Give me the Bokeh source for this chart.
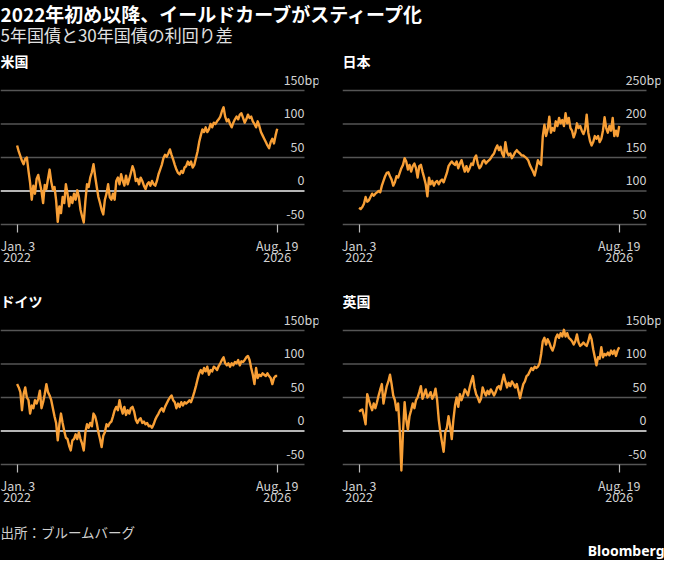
import pandas as pd
from bokeh.plotting import figure
from bokeh.models import (Range1d, FixedTicker, Label, ColumnDataSource,
                          DatetimeAxis)
from bokeh.layouts import column, row
from bokeh.embed import file_html
from bokeh.resources import INLINE

# ---------------- data ----------------
TITLE = "2022年初め以降、イールドカーブがスティープ化"
SUBTITLE = "5年国債と30年国債の利回り差"
SOURCE = "出所：ブルームバーグ"
BRAND = "Bloomberg"

START = "2022-01-03"
END = "2026-08-19"
x_tick_labels = ["Jan. 3", "Aug. 19"]
x_year_labels = ["2022", "2026"]
unit = "bp"

us_name = "米国"
us_ticks = [-50, 0, 50, 100, 150]
us = [68, 59, 52, 45, 40, 48, 50, 30, 12, -13,
      8, -4, 18, 24, 12, 0, -18, 9, 3, 18,
      32, 14, 2, 6, -14, -46, -23, -33, -9, -18,
      10, -4, -23, -9, -18, -4, -13, 1, -9, -28,
      -38, -47, -15, 10, 6, 20, 28, 40, 22, 6,
      -9, -18, -28, -35, -13, -4, 10, -9, -13, -4,
      -13, 15, 20, 10, 25, 15, 8, 23, 10, 18,
      27, 37, 30, 15, 18, 10, 20, 15, 8, 3,
      10, 13, 8, 15, 10, 8, 15, 25, 32, 39,
      49, 54, 51, 56, 62, 54, 47, 39, 32, 27,
      25, 30, 27, 35, 37, 44, 39, 44, 35, 39,
      49, 59, 73, 83, 92, 88, 95, 88, 92, 100,
      95, 102, 100, 104, 107, 111, 119, 125, 111, 104,
      107, 100, 95, 102, 107, 111, 107, 114, 116, 109,
      102, 107, 114, 109, 111, 104, 100, 95, 104, 97,
      88, 83, 78, 73, 68, 64, 73, 78, 71, 83,
      93]

jp_name = "日本"
jp_ticks = [50, 100, 150, 200, 250]
jp = [75, 73, 76, 81, 91, 84, 86, 91, 96, 93,
      96, 98, 100, 98, 108, 115, 122, 127, 128, 122,
      117, 108, 113, 122, 120, 127, 134, 139, 149, 144,
      132, 139, 129, 137, 141, 134, 120, 137, 139, 129,
      120, 110, 92, 120, 110, 115, 108, 113, 115, 110,
      115, 117, 113, 120, 127, 137, 141, 144, 141, 139,
      144, 134, 141, 146, 137, 129, 137, 129, 134, 141,
      139, 149, 153, 141, 134, 137, 144, 146, 141, 144,
      146, 149, 153, 156, 163, 168, 161, 166, 156, 151,
      173, 158, 153, 156, 149, 153, 158, 161, 158, 156,
      153, 153, 151, 149, 146, 139, 134, 129, 123, 134,
      146, 141, 139, 182, 199, 182, 192, 211, 187, 194,
      190, 204, 197, 209, 201, 206, 197, 216, 201, 209,
      194, 190, 180, 187, 201, 194, 197, 190, 185, 192,
      214, 187, 175, 168, 173, 182, 178, 182, 173, 178,
      190, 210, 194, 187, 197, 190, 209, 182, 190, 182,
      197]

de_name = "ドイツ"
de_ticks = [-50, 0, 50, 100, 150]
de = [70, 65, 58, 31, 55, 65, 50, 46, 26, 38,
      34, 46, 41, 48, 60, 34, 43, 55, 70, 58,
      53, 46, 34, 22, 12, -14, 10, 26, 12, 0,
      -10, -12, -22, -29, -14, -12, -5, -12, -2, -12,
      -19, -29, -2, 10, 5, 12, 7, 26, 22, 12,
      -2, -12, -24, -7, -2, 10, 7, 12, 14, 22,
      31, 36, 31, 46, 34, 26, 36, 24, 31, 26,
      34, 36, 29, 17, 12, 17, 19, 12, 14, 10,
      12, 7, 8, 5, 10, 17, 22, 26, 31, 34,
      29, 36, 41, 46, 50, 53, 46, 43, 34, 41,
      36, 43, 38, 43, 41, 43, 46, 43, 50, 58,
      67, 77, 86, 91, 86, 94, 89, 96, 84, 91,
      89, 96, 94, 91, 97, 101, 106, 110, 101, 98,
      101, 96, 101, 98, 103, 101, 106, 98, 104, 103,
      106, 110, 112, 106, 94, 84, 70, 94, 79, 84,
      82, 86, 84, 82, 86, 82, 79, 70, 79, 82,
      82]

uk_name = "英国"
uk_ticks = [-50, 0, 50, 100, 150]
uk = [29, 31, 32, 22, 10, 55, 46, 38, 31, 41,
      34, 43, 53, 62, 70, 41, 55, 67, 74, 84,
      70, 53, 46, 31, 41, 2, -59, -2, 43, 17,
      2, 22, 31, 41, 34, 46, 50, 58, 67, 48,
      55, 62, 50, 53, 58, 48, 53, 63, 46, 17,
      -2, -17, -31, -2, 5, 22, 7, -12, 17, 38,
      50, 36, 55, 46, 53, 62, 58, 53, 65, 74,
      82, 65, 55, 50, 43, 48, 65, 58, 53, 60,
      55, 62, 58, 53, 58, 65, 67, 62, 74, 84,
      74, 65, 72, 67, 74, 70, 65, 70, 60, 49,
      60, 70, 74, 82, 84, 89, 94, 91, 96, 94,
      96, 101, 115, 134, 139, 129, 137, 132, 125, 120,
      127, 139, 144, 139, 146, 141, 151, 141, 146, 139,
      137, 134, 129, 134, 144, 132, 127, 129, 132, 129,
      127, 134, 144, 137, 122, 110, 98, 110, 108, 125,
      110, 115, 113, 117, 113, 120, 115, 120, 112, 120,
      125]

zero_line = {"米国": True, "日本": False, "ドイツ": True, "英国": True}

# ---------------- style / geometry ----------------
BG = "#000000"
LINE = "#f89f36"
GRID = "#555555"
LABEL = "#d2d2d2"
CJK = "Noto Sans CJK JP"

W = 664
GRID_W = 304          # width of the gridlines
LABEL_PAD = 14        # room for "bp" right of gridlines
FRAME_W = GRID_W + LABEL_PAD
FRAME_H = 182
TOP_GRID_PX = 40      # px from frame top to top gridline
BOT_GRID_PX = 174     # px from frame top to bottom gridline
DATA_X0 = 16.6        # px from frame left to first date
DATA_X1 = 276.7       # px from frame left to last date

t0 = pd.Timestamp(START).value / 1e6
t1 = pd.Timestamp(END).value / 1e6
ms_per_px = (t1 - t0) / (DATA_X1 - DATA_X0)
X_START = t0 - DATA_X0 * ms_per_px
X_GRID_END = t1 + (GRID_W - DATA_X1) * ms_per_px
X_END = t1 + (FRAME_W - DATA_X1) * ms_per_px


def style_axis(ax, overrides, tick_len, standoff):
    ax.ticker = FixedTicker(ticks=[t0, t1])
    ax.major_label_overrides = overrides
    ax.axis_line_color = None
    ax.major_tick_line_color = "#bbbbbb" if tick_len else None
    ax.major_tick_line_width = 1.2
    ax.major_tick_in = tick_len
    ax.major_tick_out = 0
    ax.minor_tick_line_color = None
    ax.major_label_standoff = standoff
    ax.major_label_text_color = LABEL
    ax.major_label_text_font = CJK
    ax.major_label_text_font_size = "12.5px"


def panel(name, vals, ticks, height, left_border):
    lo, hi = min(ticks), max(ticks)
    px_per = (BOT_GRID_PX - TOP_GRID_PX) / (hi - lo)
    y_end = hi + TOP_GRID_PX / px_per
    y_start = lo - (FRAME_H - BOT_GRID_PX) / px_per

    p = figure(width=W // 2, height=height, x_axis_type="datetime",
               y_axis_location=None,
               x_range=Range1d(X_START, X_END), y_range=Range1d(y_start, y_end),
               output_backend="svg", toolbar_location=None,
               min_border_left=left_border,
               min_border_right=W // 2 - FRAME_W - left_border,
               min_border_top=0, min_border_bottom=height - FRAME_H,
               background_fill_color=BG, border_fill_color=BG,
               outline_line_color=None)
    p.xgrid.visible = False
    p.ygrid.visible = False

    gsrc = ColumnDataSource(dict(y=[t for t in ticks if not (zero_line[name] and t == 0)]))
    p.segment(x0=X_START, x1=X_GRID_END, y0="y", y1="y", source=gsrc,
              line_color=GRID, line_width=1.4)
    if zero_line[name]:
        zsrc = ColumnDataSource(dict(y=[0]))
        p.segment(x0=X_START, x1=X_GRID_END, y0="y", y1="y", source=zsrc,
                  line_color="#f2f2f2", line_width=1.4)

    dates = pd.date_range(START, END, periods=len(vals))
    src = ColumnDataSource(dict(x=dates, y=vals))
    p.line("x", "y", source=src, line_color=LINE, line_width=2.4,
           line_join="round")

    style_axis(p.xaxis[0], {t0: x_tick_labels[0], t1: x_tick_labels[1]},
               FRAME_H - BOT_GRID_PX, 3)
    ax2 = DatetimeAxis()
    style_axis(ax2, {t0: x_year_labels[0], t1: x_year_labels[1]}, 0, -6)
    p.add_layout(ax2, "below")

    lab_dy = 10.7 / px_per
    for t in ticks:
        p.add_layout(Label(x=X_GRID_END, y=t + lab_dy, text=str(t),
                           text_align="right", text_baseline="middle",
                           text_color=LABEL, text_font=CJK,
                           text_font_size="12.5px"))
    p.add_layout(Label(x=X_GRID_END, y=hi + lab_dy, text=unit,
                       text_align="left", text_baseline="middle",
                       text_color=LABEL, text_font=CJK,
                       text_font_size="12.5px"))
    p.add_layout(Label(x=X_START, y=hi + (TOP_GRID_PX - 10.6) / px_per,
                       text=name, text_align="left", text_baseline="middle",
                       text_color="white", text_font=CJK,
                       text_font_style="bold", text_font_size="14px"))
    return p


def text_fig(height):
    f = figure(width=W, height=height, x_range=Range1d(0, W),
               y_range=Range1d(height, 0), x_axis_location=None,
               y_axis_location=None, output_backend="svg",
               toolbar_location=None, min_border=0,
               background_fill_color=BG, border_fill_color=BG,
               outline_line_color=None)
    f.grid.visible = False
    return f


header = text_fig(50)
header.add_layout(Label(x=0, y=12.8, text=TITLE, text_baseline="middle",
                        text_color="white", text_font=CJK,
                        text_font_style="bold", text_font_size="19px"))
header.add_layout(Label(x=0, y=33.5, text=SUBTITLE, text_baseline="middle",
                        text_color="#e2e2e2", text_font=CJK,
                        text_font_size="17px"))

p_us = panel(us_name, us, us_ticks, 240, 0)
p_jp = panel(jp_name, jp, jp_ticks, 240, 10)
p_de = panel(de_name, de, de_ticks, 222, 0)
p_uk = panel(uk_name, uk, uk_ticks, 222, 10)

footer = text_fig(48)
footer.add_layout(Label(x=0, y=19, text=SOURCE, text_baseline="middle",
                        text_color="#cfcfcf", text_font=CJK,
                        text_font_size="13.5px"))
footer.add_layout(Label(x=W, y=38, text=BRAND, text_baseline="middle",
                        text_align="right", text_color="white",
                        text_font="Noto Sans", text_font_style="bold",
                        text_font_size="14px"))

black = {"background-color": "#000000"}
layout = column(header,
                row(p_us, p_jp, styles=black),
                row(p_de, p_uk, styles=black),
                footer, styles=black)
open("out.html", "w").write(file_html(layout, INLINE))
